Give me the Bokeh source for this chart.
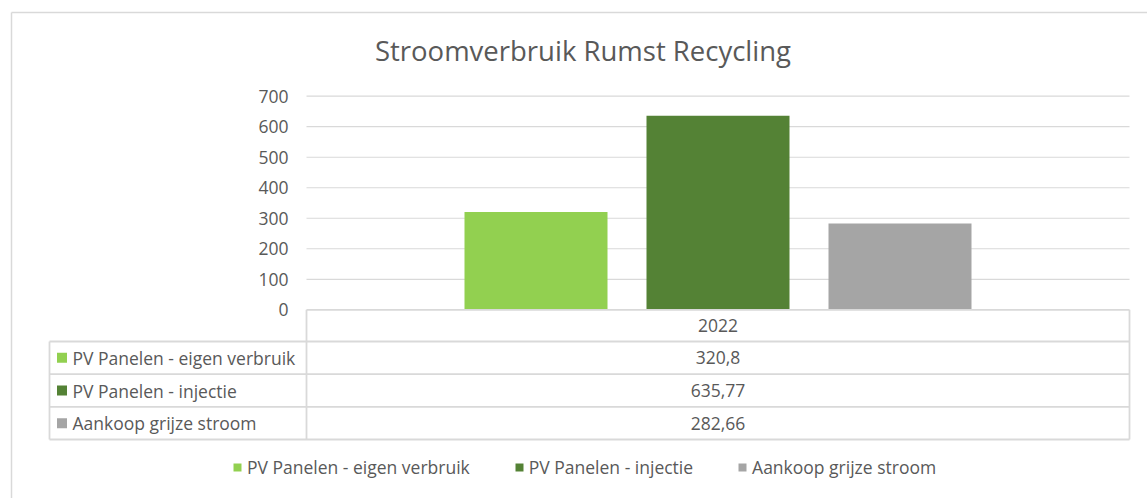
from bokeh.plotting import figure
from bokeh.models import Range1d, LinearAxis, FixedTicker, Legend, LegendItem
from bokeh.core.properties import value
from bokeh.embed import file_html
from bokeh.resources import INLINE

# ---- data ----
title = "Stroomverbruik Rumst Recycling"
categories = ["2022"]
series = ["PV Panelen - eigen verbruik", "PV Panelen - injectie", "Aankoop grijze stroom"]
values_2022 = [320.8, 635.77, 282.66]
colors = ["#92D050", "#548235", "#A5A5A5"]
y_ticks = [0, 100, 200, 300, 400, 500, 600, 700]

# ---- layout constants (figure pixels) ----
W, H = 1147, 498
Y0_PX, YTOP_PX = 309.3, 95.7          # pixel rows of value 0 and value 700
scale = (Y0_PX - YTOP_PX) / y_ticks[-1]
y_start = -(H - Y0_PX) / scale
y_end = Y0_PX / scale

PLOT_L, PLOT_R = 306, 1129
TABLE_L = 49
GROUP_C = (PLOT_L + PLOT_R) / 2
BAR_STEP, BAR_W = 182, 143
ROW_Y = [Y0_PX, 341, 373.7, 406.3, 439]
GRID = "#D9D9D9"
TXT = "#595959"
FONT = "Open Sans"
FS = "17.5px"

p = figure(width=W, height=H, x_range=Range1d(0, W), y_range=Range1d(y_start, y_end),
           x_axis_type=None, y_axis_type=None, toolbar_location=None,
           output_backend="svg", min_border=0)
p.extra_y_ranges = {"px": Range1d(H, 0)}
p.outline_line_color = None
p.background_fill_color = "white"
p.border_fill_color = "white"

# outer chart border
p.segment(x0=[11, 11], y0=[12, 12], x1=[11, W], y1=[H, 12], line_color=GRID, line_width=1.5, y_range_name="px")

# gridlines from tick values
p.segment(x0=[PLOT_L] * (len(y_ticks) - 1), x1=[PLOT_R] * (len(y_ticks) - 1),
          y0=y_ticks[1:], y1=y_ticks[1:], line_color=GRID, line_width=1.2)

# y axis
ax = LinearAxis(fixed_location=PLOT_L, bounds=(0, 700), ticker=FixedTicker(ticks=y_ticks))
ax.axis_line_color = None
ax.major_tick_line_color = None
ax.minor_tick_line_color = None
ax.major_tick_out = 0
ax.major_label_standoff = 18
ax.major_label_text_font = FONT
ax.major_label_text_font_size = FS
ax.major_label_text_color = TXT
p.add_layout(ax, "left")

# bars
bar_x = [GROUP_C + (i - (len(series) - 1) / 2) * BAR_STEP for i in range(len(series))]
renderers = []
for i, (name, v, c) in enumerate(zip(series, values_2022, colors)):
    r = p.vbar(x=[bar_x[i]], top=[v], bottom=0, width=BAR_W, fill_color=c, line_color=None)
    renderers.append(r)

# data table lines
p.segment(x0=[PLOT_L], x1=[PLOT_R], y0=[ROW_Y[0]], y1=[ROW_Y[0]], line_color=GRID, line_width=1.8, y_range_name="px")
p.segment(x0=[TABLE_L] * 4, x1=[PLOT_R] * 4, y0=ROW_Y[1:], y1=ROW_Y[1:], line_color=GRID, line_width=1.8, y_range_name="px")
p.segment(x0=[TABLE_L, PLOT_L, PLOT_R], x1=[TABLE_L, PLOT_L, PLOT_R],
          y0=[ROW_Y[1], ROW_Y[0], ROW_Y[0]], y1=[ROW_Y[4]] * 3,
          line_color=GRID, line_width=1.8, y_range_name="px")

# header cell (category)
p.text(x=[GROUP_C], y=[(ROW_Y[0] + ROW_Y[1]) / 2], text=categories, text_align="center",
       text_baseline="middle", text_font=value(FONT), text_font_size=FS, text_color=TXT, y_range_name="px")

# rows
row_mid = [(ROW_Y[k] + ROW_Y[k + 1]) / 2 for k in range(1, 4)]
p.scatter(x=[TABLE_L + 12.5] * 3, y=row_mid, marker="square", size=10, fill_color=colors,
          line_color=None, y_range_name="px")
p.text(x=[TABLE_L + 23] * 3, y=row_mid, text=series, text_align="left", text_baseline="middle",
       text_font=value(FONT), text_font_size=FS, text_color=TXT, y_range_name="px")
labels = [f"{v:g}".replace(".", ",") for v in values_2022]
p.text(x=[GROUP_C] * 3, y=row_mid, text=labels, text_align="center", text_baseline="middle",
       text_font=value(FONT), text_font_size=FS, text_color=TXT, y_range_name="px")

# title
p.text(x=[582.5], y=[50], text=[title], text_align="center", text_baseline="middle",
       text_font=value(FONT), text_font_size="27.5px", text_color=TXT, y_range_name="px")

# legend
legend = Legend(items=[LegendItem(label=s, renderers=[r]) for s, r in zip(series, renderers)],
                orientation="horizontal", location=(232, 19), glyph_width=10, glyph_height=10,
                label_standoff=5, spacing=44, padding=0, margin=0, border_line_color=None,
                background_fill_alpha=0, label_text_font=FONT, label_text_font_size=FS,
                label_text_color=TXT)
p.add_layout(legend, "center")

open("out.html", "w").write(file_html(p, INLINE))
